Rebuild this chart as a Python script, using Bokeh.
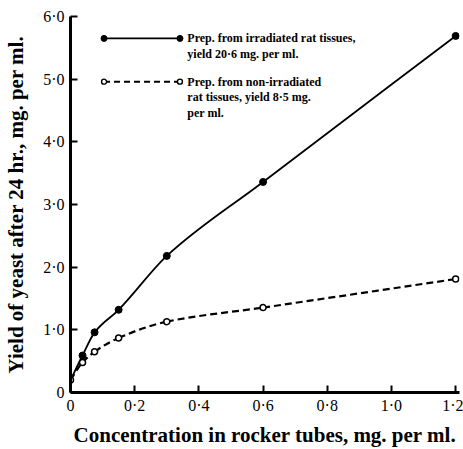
from bokeh.plotting import figure
from bokeh.models import Range1d, FixedTicker
from bokeh.core.properties import value
from bokeh.embed import file_html
from bokeh.resources import INLINE

# Data
conc = [0, 0.0375, 0.075, 0.15, 0.3, 0.6, 1.2]
irradiated = [0.2, 0.59, 0.96, 1.32, 2.18, 3.36, 5.69]
non_irradiated = [0.2, 0.48, 0.65, 0.87, 1.13, 1.355, 1.81]

x_ticks = [0, 0.2, 0.4, 0.6, 0.8, 1.0, 1.2]
x_tick_labels = ["0", "0·2", "0·4", "0·6", "0·8", "1·0", "1·2"]
y_ticks = [0, 1, 2, 3, 4, 5, 6]
y_tick_labels = ["0", "1·0", "2·0", "3·0", "4·0", "5·0", "6·0"]

legend_lines_1 = ["Prep. from irradiated rat tissues,", "yield 20·6 mg. per ml."]
legend_lines_2 = ["Prep. from non-irradiated", "rat tissues, yield 8·5 mg.", "per ml."]

SERIF = "Liberation Serif"


def smooth_segments(xs, ys):
    """Monotone cubic Hermite (Fritsch-Butland) through the data, as Bezier segments."""
    n = len(xs)
    h = [xs[i + 1] - xs[i] for i in range(n - 1)]
    d = [(ys[i + 1] - ys[i]) / h[i] for i in range(n - 1)]
    m = [0.0] * n
    m[0] = d[0]
    m[-1] = d[-1]
    for i in range(1, n - 1):
        if d[i - 1] * d[i] <= 0:
            m[i] = 0.0
        else:
            w1 = 2 * h[i] + h[i - 1]
            w2 = h[i] + 2 * h[i - 1]
            m[i] = (w1 + w2) / (w1 / d[i - 1] + w2 / d[i])
    seg = dict(x0=[], y0=[], x1=[], y1=[], cx0=[], cy0=[], cx1=[], cy1=[])
    for i in range(n - 1):
        seg["x0"].append(xs[i]); seg["y0"].append(ys[i])
        seg["x1"].append(xs[i + 1]); seg["y1"].append(ys[i + 1])
        seg["cx0"].append(xs[i] + h[i] / 3); seg["cy0"].append(ys[i] + m[i] * h[i] / 3)
        seg["cx1"].append(xs[i + 1] - h[i] / 3); seg["cy1"].append(ys[i + 1] - m[i + 1] * h[i] / 3)
    return seg


p = figure(width=463, height=449, output_backend="svg", toolbar_location=None,
           x_range=Range1d(0, 1.212), y_range=Range1d(0, 6.0),
           min_border_left=70, min_border_right=4, min_border_top=16, min_border_bottom=48)
p.outline_line_color = None
p.grid.visible = False
p.background_fill_color = "white"
p.border_fill_color = "white"

for ax, ticks, labels in ((p.xaxis[0], x_ticks, x_tick_labels), (p.yaxis[0], y_ticks, y_tick_labels)):
    ax.ticker = FixedTicker(ticks=ticks)
    ax.major_label_overrides = {t: l for t, l in zip(ticks, labels)}
    ax.axis_line_width = 3
    ax.axis_line_color = "black"
    ax.major_tick_in = 7
    ax.major_tick_out = 0
    ax.major_tick_line_width = 2
    ax.minor_tick_line_color = None
    ax.major_label_text_font = SERIF
    ax.major_label_text_font_size = "16px"
    ax.major_label_text_color = "black"
    ax.axis_label_text_font = SERIF
    ax.axis_label_text_font_size = "21px"
    ax.axis_label_text_font_style = "bold"
    ax.axis_label_text_color = "black"

p.xaxis.axis_label = "Concentration in rocker tubes, mg. per ml."
p.yaxis.axis_label = "Yield of yeast after 24 hr., mg. per ml."
p.xaxis.major_label_standoff = 4
p.xaxis.axis_label_standoff = 6
p.yaxis.major_label_standoff = 6
p.yaxis.axis_label_standoff = 12

# Curves (smooth, through the data points)
s1 = smooth_segments(conc, irradiated)
s2 = smooth_segments(conc, non_irradiated)
p.bezier(source=s1, x0="x0", y0="y0", x1="x1", y1="y1", cx0="cx0", cy0="cy0", cx1="cx1", cy1="cy1",
         line_color="black", line_width=1.8)
p.bezier(source=s2, x0="x0", y0="y0", x1="x1", y1="y1", cx0="cx0", cy0="cy0", cx1="cx1", cy1="cy1",
         line_color="black", line_width=2.2, line_dash="7 4")
p.scatter(conc[1:], irradiated[1:], size=7, marker="circle", fill_color="black", line_color="black")
p.scatter(conc, non_irradiated, size=6, marker="circle", fill_color="white", line_color="black", line_width=1.5)

# Hand-drawn style legend
lx0, lx1, tx = 0.1045, 0.341, 0.364
ly1, ly2, dy = 5.65, 4.96, 0.25
p.line([lx0, lx1], [ly1, ly1], line_color="black", line_width=1.8)
p.scatter([lx0, lx1], [ly1, ly1], size=6, marker="circle", fill_color="black", line_color="black")
p.line([lx0, lx1], [ly2, ly2], line_color="black", line_width=2.0, line_dash="6 4")
p.scatter([lx0, lx1], [ly2, ly2], size=5, marker="circle", fill_color="white", line_color="black", line_width=1.4)

p.text([tx] * len(legend_lines_1), [ly1 - i * dy for i in range(len(legend_lines_1))], text=legend_lines_1,
       text_font=value(SERIF), text_font_size="12px", text_font_style="bold",
       text_baseline="middle", text_align="left", text_color="black")
p.text([tx] * len(legend_lines_2), [ly2 - i * dy for i in range(len(legend_lines_2))], text=legend_lines_2,
       text_font=value(SERIF), text_font_size="12px", text_font_style="bold",
       text_baseline="middle", text_align="left", text_color="black")

open("out.html", "w").write(file_html(p, INLINE))
